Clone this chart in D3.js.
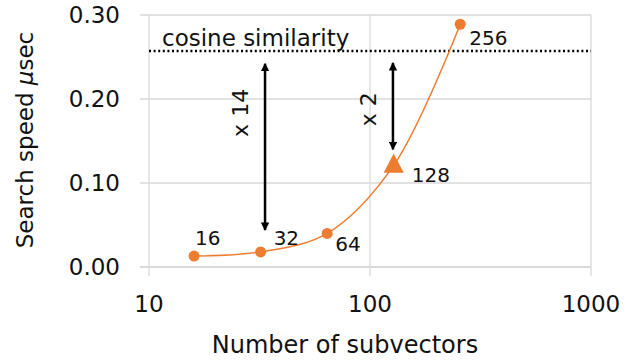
<!DOCTYPE html>
<html>
<head>
<meta charset="utf-8">
<script src="https://cdn.jsdelivr.net/npm/d3@7"></script>
<style>
  body { margin: 0; background: #fff; }
  svg { font-family: "DejaVu Sans", sans-serif; }
</style>
</head>
<body>
<svg id="chart"></svg>
<script>
// chart data
const subvectors = [16, 32, 64, 128, 256];
const speeds = [0.013, 0.018, 0.040, 0.121, 0.289];
const pointLabels = ["16", "32", "64", "128", "256"];
const cosineSpeed = 0.257;
const xTicks = [10, 100, 1000];
const yTicks = [0.0, 0.1, 0.2, 0.3];
const arrowX = [33.5, 127];
const arrowTop = [0.242, 0.243];
const arrowBottom = [0.044, 0.140];
const arrowText = ["x 14", "x 2"];

document.addEventListener('DOMContentLoaded', function () {
    const W = 644, H = 360;
    const margin = { top: 15, right: 53, bottom: 93, left: 149 };
    const width = W - margin.left - margin.right;
    const height = H - margin.top - margin.bottom;
    const orange = "#ED7D31";
    const grid = "#d9d9d9";

    const svg = d3.select("#chart")
        .attr("width", W)
        .attr("height", H);

    const g = svg.append("g")
        .attr("transform", `translate(${margin.left},${margin.top})`);

    const x = d3.scaleLog().domain([10, 1000]).range([0, width]);
    const y = d3.scaleLinear().domain([0, 0.3]).range([height, 0]);

    // gridlines
    g.selectAll(".hgrid")
        .data(yTicks)
        .enter().append("line")
        .attr("x1", -9).attr("x2", width)
        .attr("y1", d => y(d)).attr("y2", d => y(d))
        .attr("stroke", grid)
        .attr("stroke-width", d => d === 0 ? 2 : 1.3);

    g.selectAll(".vgrid")
        .data(xTicks)
        .enter().append("line")
        .attr("x1", d => x(d)).attr("x2", d => x(d))
        .attr("y1", 0).attr("y2", height + 9)
        .attr("stroke", grid)
        .attr("stroke-width", 1.3);

    // tick labels
    g.selectAll(".ylab")
        .data(yTicks)
        .enter().append("text")
        .attr("x", -29)
        .attr("y", d => y(d))
        .attr("dy", "0.36em")
        .attr("text-anchor", "end")
        .attr("font-size", 23)
        .attr("fill", "#111")
        .text(d3.format(".2f"));

    g.selectAll(".xlab")
        .data(xTicks)
        .enter().append("text")
        .attr("x", d => x(d))
        .attr("y", height + 45)
        .attr("text-anchor", "middle")
        .attr("font-size", 23)
        .attr("fill", "#111")
        .text(d => d);

    // axis titles
    svg.append("text")
        .attr("x", margin.left + width / 2 - 25)
        .attr("y", 353)
        .attr("text-anchor", "middle")
        .attr("font-size", 24)
        .attr("fill", "#111")
        .text("Number of subvectors");

    const ytitle = svg.append("text")
        .attr("transform", `translate(33,${margin.top + height / 2 - 1}) rotate(-90)`)
        .attr("text-anchor", "middle")
        .attr("font-size", 23)
        .attr("fill", "#111");
    ytitle.append("tspan").text("Search speed ");
    ytitle.append("tspan").attr("font-style", "italic").text("\u03bc");
    ytitle.append("tspan").text("sec");

    // cosine similarity reference
    g.append("line")
        .attr("x1", 0).attr("x2", width)
        .attr("y1", y(cosineSpeed)).attr("y2", y(cosineSpeed))
        .attr("stroke", "#000")
        .attr("stroke-width", 2.5)
        .attr("stroke-dasharray", "2,2.6");

    g.append("text")
        .attr("x", 13)
        .attr("y", y(cosineSpeed) - 5)
        .attr("font-size", 23)
        .attr("fill", "#111")
        .text("cosine similarity");

    // arrows
    const defs = svg.append("defs");
    defs.append("marker")
        .attr("id", "head")
        .attr("viewBox", "0 0 10 10")
        .attr("refX", 9).attr("refY", 5)
        .attr("markerWidth", 3.4).attr("markerHeight", 3.4)
        .attr("markerUnits", "strokeWidth")
        .attr("orient", "auto-start-reverse")
        .append("path")
        .attr("d", "M0,0 L10,5 L0,10 Z")
        .attr("fill", "#000");

    arrowX.forEach((ax, i) => {
        g.append("line")
            .attr("x1", x(ax)).attr("x2", x(ax))
            .attr("y1", y(arrowTop[i])).attr("y2", y(arrowBottom[i]))
            .attr("stroke", "#000")
            .attr("stroke-width", 2.5)
            .attr("marker-start", "url(#head)")
            .attr("marker-end", "url(#head)");

        const mid = (y(arrowTop[i]) + y(arrowBottom[i])) / 2;
        g.append("text")
            .attr("transform", `translate(${x(ax) - 17},${i === 0 ? mid - 34 : mid + 3}) rotate(-90)`)
            .attr("text-anchor", "middle")
            .attr("font-size", 22)
            .attr("fill", "#111")
            .text(arrowText[i]);
    });

    // series
    const data = subvectors.map((n, i) => ({ n: n, v: speeds[i], label: pointLabels[i] }));

    const line = d3.line()
        .x(d => x(d.n))
        .y(d => y(d.v))
        .curve(d3.curveCatmullRom.alpha(0.5));

    g.append("path")
        .datum(data)
        .attr("d", line)
        .attr("fill", "none")
        .attr("stroke", orange)
        .attr("stroke-width", 1.5);

    g.selectAll(".pt")
        .data(data.filter(d => d.n !== 128))
        .enter().append("circle")
        .attr("cx", d => x(d.n))
        .attr("cy", d => y(d.v))
        .attr("r", 5.5)
        .attr("fill", orange);

    g.selectAll(".tri")
        .data(data.filter(d => d.n === 128))
        .enter().append("path")
        .attr("d", d3.symbol().type(d3.symbolTriangle).size(175))
        .attr("transform", d => `translate(${x(d.n)},${y(d.v) + 1}) scale(1,1.1)`)
        .attr("fill", orange);

    const labelOffset = [[1, -11], [13, -7], [8, 18], [18, 17], [9, 21]];
    g.selectAll(".plab")
        .data(data)
        .enter().append("text")
        .attr("x", (d, i) => x(d.n) + labelOffset[i][0])
        .attr("y", (d, i) => y(d.v) + labelOffset[i][1])
        .attr("font-size", 20)
        .attr("fill", "#111")
        .text(d => d.label);
});
</script>
</body>
</html>
